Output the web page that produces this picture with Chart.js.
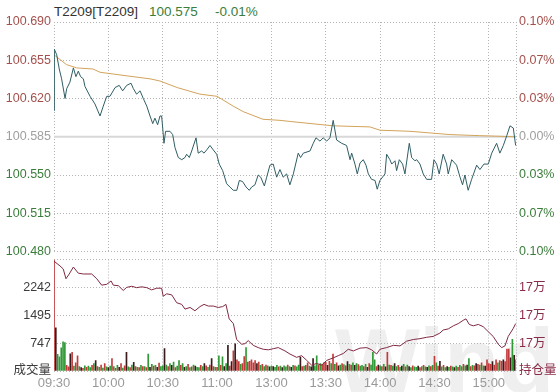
<!DOCTYPE html>
<html>
<head>
<meta charset="utf-8">
<script src="https://cdn.jsdelivr.net/npm/chart.js@4.4.0/dist/chart.umd.min.js"></script>
<style>
    html, body { margin: 0; padding: 0; background: #fff; }
    #wrap { position: relative; width: 560px; height: 392px; overflow: hidden;
            font-family: "Liberation Sans", Arial, "Noto Sans CJK SC", sans-serif; }
    .ttl { position: absolute; top: 4px; font-size: 13.5px; line-height: 16px; white-space: nowrap; }
    #mark { position: absolute; left: 335px; top: 316px; font: bold 90px "Liberation Sans", Arial, sans-serif;
            line-height: 90px; color: #efefef; white-space: nowrap; }
    canvas { position: absolute; left: 0; }
    #priceCanvas { top: 0; }
    #volCanvas { top: 249px; }
</style>
</head>
<body>
<div id="wrap">
    <div id="mark">Wind</div>
    <span class="ttl" style="left:54px;color:#333">T2209[T2209]</span>
    <span class="ttl" style="left:149px;color:#3b7d3b">100.575</span>
    <span class="ttl" style="left:215px;color:#3b7d3b">-0.01%</span>
    <canvas id="priceCanvas" width="560" height="262"></canvas>
    <canvas id="volCanvas" width="560" height="143"></canvas>
</div>
<script>
// ---- data (minutes since 09:30, lunch break removed: 120 = 11:30/13:00) ----

const preSettle = 100.585;

const xTickMinutes = [0, 30, 60, 90, 120, 150, 180, 210, 240, 255];
const xTickLabels = ['09:30', '10:00', '10:30', '11:00', '13:00', '13:30', '14:00', '14:30', '15:00', ''];

const priceTicks = [100.480, 100.515, 100.550, 100.585, 100.620, 100.655, 100.690];

const priceMin = [
    0, 0.2, 1.5, 2.9, 4.2, 6.1, 7.0, 8.8, 10.7, 12.1,
    13.4, 14.7, 16.2, 17.1, 19.9, 22.6, 25.4, 27.2, 29.1, 30.9,
    33.7, 36.0, 37.9, 40.1, 42.5, 43.8, 45.6, 47.5, 49.3, 51.2,
    53.0, 54.5, 55.7, 57.2, 58.5, 59.4, 60.0, 60.7, 61.6, 64.0,
    65.5, 66.8, 68.6, 70.5, 72.3, 73.2, 74.7, 76.0, 78.4, 79.6,
    81.5, 82.8, 84.3, 86.1, 87.9, 89.8, 91.2, 93.1, 95.3, 97.1,
    99.0, 100.9, 102.3, 104.1, 106.0, 107.8, 109.1, 110.9, 112.7, 114.1,
    116.1, 117.4, 119.2, 121.0, 122.9, 124.7, 126.5, 128.4, 130.2, 132.1,
    134.8, 136.1, 137.6, 141.3, 143.1, 144.6, 146.8, 148.6, 150.5, 152.3,
    154.1, 156.0, 158.8, 161.5, 163.4, 164.3, 166.1, 167.4, 168.9, 170.7,
    172.2, 173.5, 175.3, 177.2, 178.4, 179.9, 182.7, 183.6, 185.4, 186.4,
    188.2, 189.1, 190.6, 192.4, 193.7, 196.1, 197.4, 199.2, 200.2, 202.0,
    203.8, 205.7, 208.4, 209.7, 211.2, 212.6, 214.8, 216.7, 217.6, 219.5,
    222.2, 224.1, 225.5, 226.8, 228.6, 230.5, 233.3, 235.1, 237.3, 239.7,
    241.6, 244.3, 246.1, 248.0, 249.9, 251.7, 253.5, 254.8
];
const priceVal = [
    100.609, 100.665, 100.660, 100.647, 100.638, 100.620, 100.629, 100.635, 100.648, 100.640,
    100.645, 100.640, 100.638, 100.631, 100.622, 100.615, 100.604, 100.613, 100.622, 100.622,
    100.630, 100.632, 100.627, 100.632, 100.634, 100.629, 100.624, 100.627, 100.620, 100.613,
    100.604, 100.597, 100.602, 100.596, 100.604, 100.604, 100.593, 100.579, 100.590, 100.590,
    100.587, 100.575, 100.566, 100.564, 100.566, 100.569, 100.566, 100.572, 100.584, 100.570,
    100.572, 100.570, 100.573, 100.577, 100.573, 100.569, 100.560, 100.554, 100.542, 100.539,
    100.536, 100.536, 100.545, 100.544, 100.539, 100.536, 100.539, 100.541, 100.550, 100.548,
    100.540, 100.548, 100.559, 100.560, 100.548, 100.555, 100.548, 100.551, 100.541, 100.551,
    100.570, 100.566, 100.570, 100.572, 100.579, 100.584, 100.581, 100.584, 100.581, 100.584,
    100.600, 100.582, 100.579, 100.577, 100.564, 100.570, 100.560, 100.551, 100.561, 100.564,
    100.559, 100.551, 100.546, 100.545, 100.537, 100.545, 100.551, 100.569, 100.564, 100.560,
    100.563, 100.554, 100.564, 100.560, 100.551, 100.579, 100.566, 100.563, 100.564, 100.560,
    100.551, 100.546, 100.546, 100.564, 100.560, 100.551, 100.569, 100.560, 100.551, 100.564,
    100.559, 100.548, 100.541, 100.550, 100.536, 100.546, 100.559, 100.555, 100.560, 100.560,
    100.570, 100.579, 100.570, 100.577, 100.586, 100.595, 100.593, 100.577
];

const avgMin = [0, 6.9, 12.5, 21.5, 25.4, 43.6, 53, 58.5, 68, 80.5, 90, 98.9, 104.4,
    115.3, 124.7, 130.2, 154, 174.4, 179.9, 196.5, 218.5, 235, 254.8];
const avgVal = [100.660, 100.651, 100.648, 100.647, 100.644, 100.640, 100.638, 100.636, 100.630,
    100.624, 100.622, 100.613, 100.608, 100.601, 100.600, 100.599, 100.595, 100.594, 100.591,
    100.590, 100.587, 100.586, 100.585];

// open interest (持仓量)
const oiTicks = [170000, 171000, 172000, 173000, 174000];
const oiMin = [
    0, 3.3, 5.1, 6.6, 8.4, 10.7, 13.4, 16.2, 20.8, 23.6,
    26.3, 29.1, 31.5, 32.7, 35.5, 38.2, 40.1, 42.9, 45.6, 48.4,
    51.2, 53.9, 56.7, 59.4, 60.3, 62.2, 65.0, 67.7, 70.5, 72.3,
    75.1, 77.8, 80.6, 82.8, 85.2, 87.9, 90.7, 93.1, 94.9, 96.7,
    99.0, 100.8, 103.6, 105.4, 107.2, 110.0, 112.7, 115.5, 118.3, 121.0,
    123.8, 127.5, 130.2, 133.9, 136.7, 139.5, 142.2, 145.0, 147.7, 150.5,
    154.1, 156.9, 159.7, 162.4, 165.2, 168.9, 172.6, 175.3, 178.1, 179.9,
    183.6, 187.3, 191.0, 194.6, 198.3, 202.0, 205.7, 209.3, 213.0, 214.8,
    217.6, 220.4, 223.1, 225.9, 227.4, 229.2, 231.4, 234.2, 236.9, 239.7,
    242.4, 245.2, 247.1, 248.9, 250.7, 253.5, 254.8
];
const oiVal = [
    173940, 173770, 173660, 173310, 173480, 173730, 173510, 173480, 173480, 173310,
    173080, 173110, 173230, 173080, 173060, 172890, 173000, 173040, 172990, 173020,
    172990, 172910, 172970, 172970, 172680, 172770, 172730, 172450, 172390, 172220,
    172280, 172160, 172310, 172390, 172330, 172330, 172280, 172310, 172390, 171870,
    171700, 171130, 170960, 170980, 171090, 170920, 170840, 170780, 170760, 170800,
    170840, 170720, 170610, 170490, 170550, 170380, 170210, 170270, 170210, 170380,
    170470, 170550, 170630, 170780, 170720, 170820, 170840, 170760, 170610, 170780,
    170840, 170920, 170900, 171070, 171130, 171160, 171210, 171240, 171360, 171470,
    171510, 171620, 171700, 171820, 171870, 171670, 171620, 171670, 171590, 171410,
    171240, 170960, 170840, 170900, 171240, 171530, 171700
];

// volume (成交量), one bar per minute
const volTicks = [0, 747.5, 1495, 2242.5, 2990];
const volTickLabels = ['成交量', '747', '1495', '2242', ''];
const volume = [
    2980, 1160, 450, 380, 620, 780, 760, 150, 110, 460,
    500, 130, 220, 410, 120, 90, 70, 140, 100, 130,
    90, 150, 200, 280, 120, 100, 160, 80, 200, 110,
    90, 130, 330, 120, 70, 150, 100, 200, 80, 140,
    500, 110, 90, 160, 230, 120, 100, 90, 150, 120,
    120, 90, 455, 100, 180, 130, 150, 100, 210, 120,
    140, 600, 160, 120, 200, 150, 240, 90, 130, 280,
    150, 200, 100, 120, 180, 90, 110, 160, 130, 100,
    90, 150, 120, 200, 140, 100, 160, 330, 120, 100,
    100, 410, 150, 380, 120, 200, 690, 130, 250, 540,
    730, 300, 250, 180, 200, 390, 625, 240, 260, 300,
    220, 280, 200, 240, 150, 180, 120, 160, 140, 110,
    130, 120, 100, 150, 110, 130, 90, 140, 110, 160,
    120, 100, 150, 140, 110, 160, 370, 120, 130, 150,
    220, 130, 110, 330, 140, 410, 160, 200, 180, 220,
    240, 150, 260, 200, 455, 180, 220, 140, 160, 200,
    170, 140, 250, 180, 160, 220, 150, 200, 170, 130,
    150, 120, 180, 100, 200, 160, 500, 300, 120, 160,
    140, 120, 180, 110, 500, 160, 150, 130, 200, 120,
    150, 100, 130, 180, 110, 160, 120, 90, 140, 110,
    100, 130, 90, 120, 150, 110, 100, 140, 120, 150,
    395, 220, 130, 260, 110, 150, 90, 120, 100, 130,
    110, 90, 130, 100, 150, 120, 180, 140, 160, 330,
    120, 150, 140, 200, 180, 160, 220, 140, 130, 300,
    200, 180, 250, 160, 300, 220, 280, 260, 300, 250,
    585, 590, 350, 850, 420, 300
];
// r = up, g = down, k = flat
const volDir = (
    'rkgggggrrk' + 'rgrrgkrgrg' + 'grgkrgrgrg' + 'kgrgrgkrgr' + 'kgrgkrgrgr' +
    'grgkgrgkrg' + 'gkgrgkgrgg' + 'rgkgrgrgkg' + 'grgkrgrkrg' + 'rgrgkgkrkr' +
    'krrgrrgrrr' + 'rrkrgrgrgk' + 'gkggrgkggr' + 'gkgrggkrgr' + 'rgkkggrgrr' +
    'rkrgrgrkgr' + 'grkgrgkgrg' + 'grgkrgggrk' + 'grgkrgrgkg' + 'rgkgrgkgrg' +
    'gkrgrgkgrg' + 'rgrkgrgkgr' + 'gkgrggrgkg' + 'rgrkrgrgkr' + 'rrkrrgrrkr' + 'rrkgkg'
).split('');

// ---- styling ----

const fontFamily = '"Liberation Sans", Arial, "Noto Sans CJK SC", sans-serif';
Chart.defaults.font.family = fontFamily;
Chart.defaults.font.size = 12.5;

const gridColor = '#b4b4b4';
const upColor = '#a4504c';
const downColor = '#3b7d3b';
const flatColor = '#a0a0a0';
const barColors = { r: '#c23b3b', g: '#2f9a35', k: '#3a1a1a' };

function priceColor(v) {
    if (Math.abs(v - preSettle) < 1e-6) return flatColor;
    return v > preSettle ? upColor : downColor;
}

function xAxis(showLabels) {
    return {
        type: 'linear',
        min: 0,
        max: 255,
        offset: false,
        afterBuildTicks: s => { s.ticks = xTickMinutes.map(v => ({ value: v })); },
        grid: { color: gridColor, drawTicks: false, offset: false },
        border: { display: false, dash: [1, 2] },
        ticks: {
            display: showLabels,
            color: '#9a9a9a',
            padding: 5,
            maxRotation: 0,
            autoSkip: false,
            font: { size: 13 },
            callback: (v, i) => xTickLabels[i]
        },
        afterFit: s => { s.height = showLabels ? 21 : 0; }
    };
}

const xy = (xs, ys) => xs.map((x, i) => ({ x: x, y: ys[i] }));

// ---- price panel ----

new Chart(document.getElementById('priceCanvas'), {
    type: 'line',
    data: {
        datasets: [
            {
                data: xy(priceMin, priceVal),
                borderColor: '#2f5e64',
                borderWidth: 1,
                pointRadius: 0,
                yAxisID: 'yPrice',
                order: 0
            },
            {
                data: xy(avgMin, avgVal),
                borderColor: '#d2a35c',
                borderWidth: 1,
                pointRadius: 0,
                yAxisID: 'yPrice',
                order: 1
            },
            {
                data: xy([0, 255], [preSettle, preSettle]),
                borderColor: '#d8d8d8',
                borderWidth: 2,
                pointRadius: 0,
                yAxisID: 'yPrice',
                order: 2
            }
        ]
    },
    options: {
        responsive: false,
        animation: false,
        devicePixelRatio: 1,
        layout: { padding: { top: 22, bottom: 7, left: 0, right: 0 } },
        plugins: { legend: { display: false }, tooltip: { enabled: false } },
        scales: {
            x: xAxis(false),
            yPrice: {
                position: 'left',
                min: priceTicks[0],
                max: priceTicks[priceTicks.length - 1],
                afterBuildTicks: s => { s.ticks = priceTicks.map(v => ({ value: v })); },
                grid: { color: gridColor, drawTicks: false },
                border: { display: false, dash: [1, 2] },
                ticks: {
                    padding: 3,
                    color: ctx => priceColor(ctx.tick.value),
                    callback: v => v.toFixed(3)
                },
                afterFit: s => { s.width = 54; }
            },
            yPct: {
                position: 'right',
                min: priceTicks[0],
                max: priceTicks[priceTicks.length - 1],
                afterBuildTicks: s => { s.ticks = priceTicks.map(v => ({ value: v })); },
                grid: { display: false, drawTicks: false },
                border: { display: false },
                ticks: {
                    padding: 3,
                    color: ctx => priceColor(ctx.tick.value),
                    callback: v => Math.abs((v - preSettle) / preSettle * 100).toFixed(2) + '%'
                },
                afterFit: s => { s.width = 44; }
            }
        }
    }
});

// ---- volume / open interest panel ----

new Chart(document.getElementById('volCanvas'), {
    type: 'bar',
    data: {
        datasets: [
            {
                type: 'line',
                data: xy(oiMin, oiVal),
                borderColor: '#812a42',
                borderWidth: 1,
                pointRadius: 0,
                yAxisID: 'yOI',
                order: 0
            },
            {
                type: 'bar',
                data: xy(volume.map((v, i) => i), volume),
                backgroundColor: volDir.map(d => barColors[d]),
                barThickness: 1,
                yAxisID: 'yVol',
                order: 1
            }
        ]
    },
    options: {
        responsive: false,
        animation: false,
        devicePixelRatio: 1,
        layout: { padding: { top: 6, bottom: 0, left: 0, right: 0 } },
        plugins: { legend: { display: false }, tooltip: { enabled: false } },
        scales: {
            x: xAxis(true),
            yVol: {
                position: 'left',
                min: 0,
                max: volTicks[volTicks.length - 1],
                afterBuildTicks: s => { s.ticks = volTicks.map(v => ({ value: v })); },
                grid: { color: gridColor, drawTicks: false },
                border: { display: false, dash: [1, 2] },
                ticks: {
                    padding: 3,
                    color: '#3c3c3c',
                    callback: (v, i) => volTickLabels[i]
                },
                afterFit: s => { s.width = 54; }
            },
            yOI: {
                position: 'right',
                min: oiTicks[0],
                max: oiTicks[oiTicks.length - 1],
                afterBuildTicks: s => { s.ticks = oiTicks.map(v => ({ value: v })); },
                grid: { display: false, drawTicks: false },
                border: { display: false },
                ticks: {
                    padding: 3,
                    color: '#8a2c48',
                    callback: (v, i) => {
                        if (i === 0) return '持仓量';
                        if (i === oiTicks.length - 1) return '';
                        return Math.round(v / 10000) + '万';
                    }
                },
                afterFit: s => { s.width = 44; }
            }
        }
    }
});
</script>
</body>
</html>
